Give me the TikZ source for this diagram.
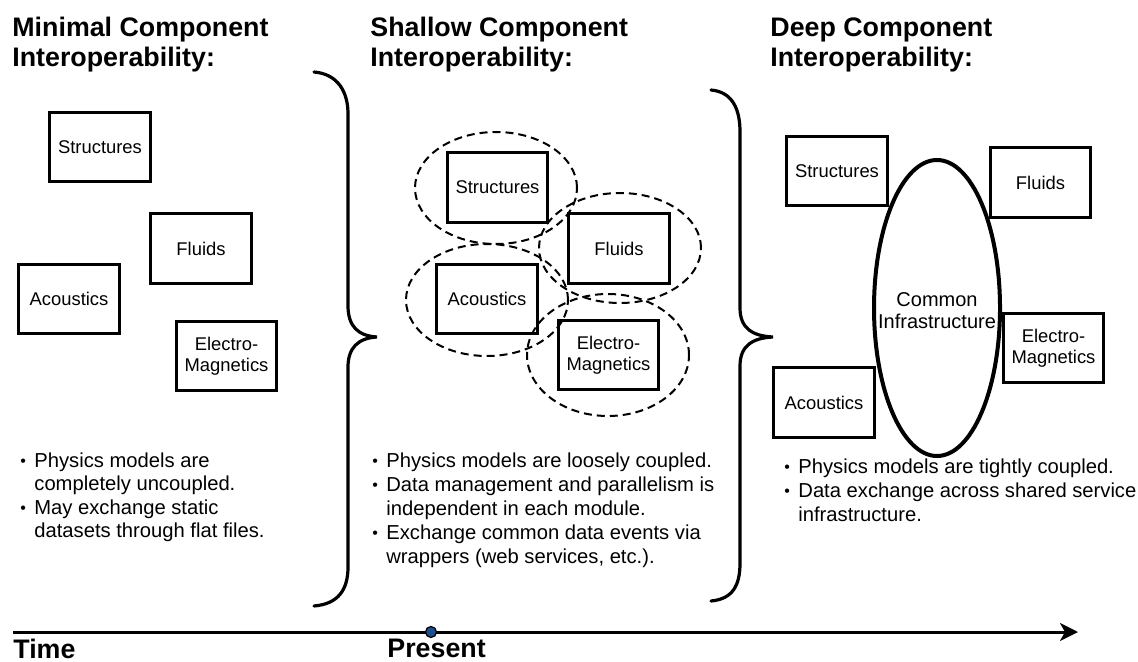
\documentclass[tikz,border=0pt]{standalone}
\usepackage{fontspec}
\setmainfont{Liberation Sans}
\usetikzlibrary{shapes.geometric,arrows.meta}
\definecolor{dotblue}{RGB}{31,78,140}
\begin{document}
\begin{tikzpicture}[x=0.5pt,y=-0.5pt,
  box/.style={draw,line width=1.6pt,minimum width=50.3pt,minimum height=34.8pt,inner sep=0pt,align=center,font=\fontsize{9.2}{10.5}\selectfont},
  grp/.style={ellipse,draw,dash pattern=on 4pt off 2.5pt,line width=1pt,inner sep=0pt},
  ttl/.style={anchor=base west,inner sep=0pt,font=\fontsize{13.4}{15}\selectfont\bfseries},
  txt/.style={anchor=base west,inner sep=0pt,font=\fontsize{10.1}{12}\selectfont},
  bul/.style={anchor=base west,inner sep=0pt,font=\fontsize{8}{12}\selectfont},
  bracepath/.style={line width=1.6pt,line cap=round},
]
\useasboundingbox (0,0) rectangle (1138,662);

% titles
\node[ttl] (t1a) at (12,37) {Minimal Component};
\node[ttl] (t1b) at (12,67) {Interoperability:};
\node[ttl] (t2a) at (370,37) {Shallow Component};
\node[ttl] (t2b) at (370,67) {Interoperability:};
\node[ttl] (t3a) at (770,37) {Deep Component};
\node[ttl] (t3b) at (770,67) {Interoperability:};

% left panel
\node[box] (ls) at (100,147) {Structures};
\node[box] (lf) at (201,248.5) {Fluids};
\node[box] (la) at (69,299) {Acoustics};
\node[box] (le) at (226.5,356) {Electro-\\Magnetics};

% middle panel
\node[grp,minimum width=81pt,minimum height=56pt] (gs) at (496,188) {};
\node[grp,minimum width=81pt,minimum height=55pt] (gf) at (620,248) {};
\node[grp,minimum width=81pt,minimum height=56pt] (ga) at (487,300) {};
\node[grp,minimum width=81pt,minimum height=61pt] (ge) at (608,355) {};
\node[box] (ms) at (497.5,187.5) {Structures};
\node[box] (mf) at (619,248.5) {Fluids};
\node[box] (ma) at (487,299) {Acoustics};
\node[box] (me) at (608.5,355) {Electro-\\Magnetics};

% right panel
\node[ellipse,draw,line width=2pt,minimum width=63pt,minimum height=148pt,inner sep=0pt] (ell) at (937,308) {};
\node[align=center,inner sep=0pt,font=\fontsize{10}{11}\selectfont] (ci) at (937,311) {Common\\Infrastructure};
\node[box] (rs) at (837,171) {Structures};
\node[box] (rf) at (1040.5,182.5) {Fluids};
\node[box] (re) at (1053.5,348) {Electro-\\Magnetics};
\node[box] (ra) at (824,402.5) {Acoustics};

% braces
\draw[bracepath] (314,72) .. controls (338,74) and (348,92) .. (348,114) -- (348,306)
  .. controls (348,326) and (358,336) .. (377,337)
  .. controls (358,338) and (348,348) .. (348,367) -- (348,567)
  .. controls (348,590) and (338,604) .. (314,606);
\draw[bracepath] (711,90) .. controls (733,92) and (740,110) .. (740,132) -- (740,308)
  .. controls (740,328) and (752,336) .. (773,337)
  .. controls (752,338) and (740,346) .. (740,366) -- (740,563)
  .. controls (740,585) and (733,599) .. (711,601);

% bullets left
\node[bul] (lb1) at (20,466) {•};
\node[txt] (l1) at (34,467) {Physics models are};
\node[txt] (l2) at (34,490) {completely uncoupled.};
\node[bul] (lb2) at (20,513) {•};
\node[txt] (l3) at (34,514) {May exchange static};
\node[txt] (l4) at (34,537) {datasets through flat files.};

% bullets middle
\node[bul] (mb1) at (372,466) {•};
\node[txt] (m1) at (386,467) {Physics models are loosely coupled.};
\node[bul] (mb2) at (372,490) {•};
\node[txt] (m2) at (386,491) {Data management and parallelism is};
\node[txt] (m3) at (386,515) {independent in each module.};
\node[bul] (mb3) at (372,538) {•};
\node[txt] (m4) at (386,539) {Exchange common data events via};
\node[txt] (m5) at (386,563) {wrappers (web services, etc.).};

% bullets right
\node[bul] (rb1) at (784,472) {•};
\node[txt] (r1) at (798,473) {Physics models are tightly coupled.};
\node[bul] (rb2) at (784,496) {•};
\node[txt] (r2) at (798,497) {Data exchange across shared service};
\node[txt] (r3) at (798,521) {infrastructure.};

% time axis
\coordinate (ax0) at (13,632);
\coordinate (ax1) at (1078,632);
\draw[line width=1.5pt,-{Stealth[length=9pt,width=9pt,inset=2.5pt]}] (ax0) -- (ax1);
\node[circle,draw,line width=0.6pt,fill=dotblue,minimum size=5.5pt,inner sep=0pt] (pd) at (431,632) {};
\node[ttl] (tm) at (13,658) {Time};
\node[ttl] (pr) at (387,657) {Present};
\end{tikzpicture}
\end{document}
